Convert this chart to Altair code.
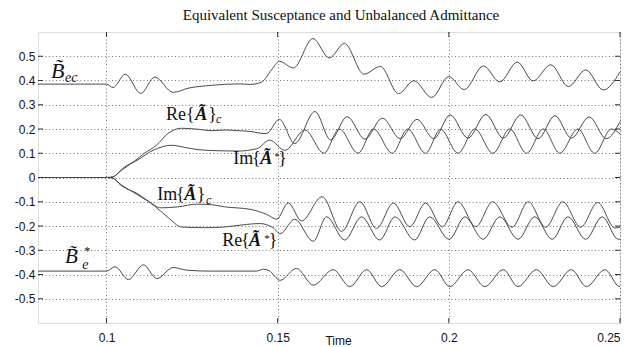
import altair as alt
import pandas as pd

# ---------------- data ----------------
bec_t = [0.08, 0.1, 0.1019, 0.1055, 0.1100, 0.1141, 0.1195, 0.1238, 0.1306, 0.1384, 0.1420, 0.1453, 0.1482, 0.1505,
         0.1546, 0.1603, 0.1651, 0.1695, 0.1752, 0.1800, 0.1853, 0.1898, 0.1950, 0.2000, 0.2045, 0.2101, 0.2149,
         0.2200, 0.2246, 0.2298, 0.2349, 0.2400, 0.2451, 0.25]
bec_v = [0.385, 0.385, 0.371, 0.426, 0.347, 0.414, 0.351, 0.368, 0.380, 0.386, 0.384, 0.393, 0.444, 0.479,
         0.452, 0.573, 0.493, 0.553, 0.426, 0.458, 0.346, 0.399, 0.330, 0.416, 0.362, 0.460, 0.394,
         0.476, 0.398, 0.465, 0.375, 0.444, 0.361, 0.435]

re_ac_t = [0.08, 0.1, 0.1017, 0.1043, 0.1082, 0.111, 0.1146, 0.118, 0.1219, 0.1267, 0.1306, 0.1345, 0.1384, 0.142,
           0.1448, 0.1467, 0.1505, 0.1550, 0.1609, 0.1655, 0.1703, 0.1755, 0.1806, 0.1858, 0.1907, 0.1956, 0.2004,
           0.2056, 0.2108, 0.2159, 0.2210, 0.2261, 0.2310, 0.2358, 0.2410, 0.2460, 0.25]
re_ac_v = [0, 0, 0.002, 0.029, 0.068, 0.099, 0.133, 0.182, 0.203, 0.199, 0.193, 0.196, 0.193, 0.190,
           0.183, 0.181, 0.240, 0.140, 0.272, 0.155, 0.251, 0.158, 0.245, 0.160, 0.240, 0.160, 0.258,
           0.162, 0.260, 0.162, 0.258, 0.160, 0.255, 0.162, 0.250, 0.160, 0.23]

im_as_t = [0.08, 0.1, 0.1017, 0.1053, 0.1092, 0.1136, 0.119, 0.1229, 0.1267, 0.1335, 0.1384, 0.1439, 0.1477, 0.1521,
           0.1580, 0.1635, 0.1680, 0.1735, 0.1780, 0.1835, 0.1880, 0.1932, 0.1976, 0.2027, 0.2076, 0.2129, 0.2178,
           0.2227, 0.2276, 0.2324, 0.2377, 0.2426, 0.2475, 0.25]
im_as_v = [0, 0, 0.002, 0.043, 0.073, 0.112, 0.133, 0.124, 0.115, 0.110, 0.109, 0.119, 0.154, 0.112,
           0.196, 0.100, 0.200, 0.100, 0.200, 0.100, 0.200, 0.100, 0.199, 0.100, 0.200, 0.100, 0.200,
           0.100, 0.200, 0.100, 0.200, 0.100, 0.200, 0.18]

im_ac_t = [0.08, 0.1, 0.1017, 0.1043, 0.1092, 0.1121, 0.116, 0.1209, 0.1264, 0.1306, 0.1345, 0.1419, 0.1468, 0.1497,
           0.1531, 0.1570, 0.1630, 0.1687, 0.1740, 0.1789, 0.1838, 0.1886, 0.1932, 0.1981, 0.2027, 0.2079, 0.2128,
           0.2185, 0.2232, 0.2283, 0.2333, 0.2385, 0.2435, 0.2485, 0.25]
im_ac_v = [0, 0, -0.002, -0.033, -0.068, -0.096, -0.125, -0.121, -0.110, -0.112, -0.121, -0.131, -0.152, -0.172,
           -0.105, -0.179, -0.079, -0.222, -0.100, -0.210, -0.105, -0.203, -0.105, -0.203, -0.100, -0.203, -0.100,
           -0.205, -0.100, -0.205, -0.100, -0.205, -0.103, -0.208, -0.205]

re_as_t = [0.08, 0.1, 0.1017, 0.1043, 0.1092, 0.114, 0.118, 0.1219, 0.1287, 0.1345, 0.1370, 0.1448, 0.1487, 0.1507,
           0.1550, 0.1604, 0.1643, 0.1696, 0.1745, 0.1798, 0.1843, 0.1900, 0.1944, 0.2001, 0.2047, 0.2100, 0.2149,
           0.2202, 0.2251, 0.2302, 0.2348, 0.2400, 0.2448, 0.2495, 0.25]
re_as_v = [0, 0, -0.002, -0.030, -0.072, -0.117, -0.165, -0.204, -0.207, -0.204, -0.200, -0.190, -0.207, -0.232,
           -0.172, -0.263, -0.162, -0.258, -0.162, -0.258, -0.162, -0.258, -0.162, -0.255, -0.162, -0.255, -0.162,
           -0.255, -0.162, -0.255, -0.162, -0.255, -0.162, -0.255, -0.254]

be_t = [0.08, 0.1, 0.1025, 0.1064, 0.1108, 0.1147, 0.1195, 0.1234, 0.1300, 0.1439, 0.1458, 0.1475, 0.1507, 0.1555,
        0.1604, 0.1662, 0.1711, 0.1760, 0.1804, 0.1857, 0.1906, 0.1959, 0.2003, 0.2056, 0.2105, 0.2159, 0.2202,
        0.2256, 0.2305, 0.2358, 0.2402, 0.2456, 0.2499, 0.25]
be_v = [-0.386, -0.386, -0.368, -0.421, -0.360, -0.417, -0.371, -0.382, -0.386, -0.386, -0.378, -0.384, -0.424, -0.375,
        -0.444, -0.380, -0.450, -0.380, -0.450, -0.380, -0.450, -0.380, -0.450, -0.380, -0.450, -0.380, -0.450,
        -0.380, -0.450, -0.380, -0.450, -0.380, -0.450, -0.449]

x_ticks = [0.1, 0.15, 0.2, 0.25]
y_ticks = [-0.5, -0.4, -0.3, -0.2, -0.1, 0.0, 0.1, 0.2, 0.3, 0.4, 0.5]

title_text = "Equivalent Susceptance and Unbalanced Admittance"

# annotation pieces: text, t, v (baseline), font size, style
ann_text = ["B\u0303", "ec",
            "Re", "{", "Ã", "}", "c",
            "Im", "{", "Ã", "*", "}",
            "Im", "{", "Ã", "}", "c",
            "Re", "{", "Ã", "*", "}",
            "B\u0303", "*", "e"]
ann_t = [0.0838, 0.0879,
         0.1174, 0.1232, 0.1259, 0.1297, 0.1320,
         0.1370, 0.1425, 0.1449, 0.1490, 0.1502,
         0.1148, 0.1203, 0.1227, 0.1264, 0.1291,
         0.1338, 0.1393, 0.1416, 0.1461, 0.1474,
         0.0879, 0.0935, 0.0929]
ann_v = [0.410, 0.394,
         0.239, 0.239, 0.239, 0.239, 0.225,
         0.056, 0.056, 0.056, 0.072, 0.056,
         -0.093, -0.093, -0.093, -0.093, -0.109,
         -0.283, -0.283, -0.283, -0.266, -0.283,
         -0.353, -0.318, -0.377]
ann_size = [22, 14,
            18, 18, 18, 18, 12,
            18, 18, 18, 11, 18,
            18, 18, 18, 18, 12,
            18, 18, 18, 11, 18,
            21, 12, 14]
ann_kind = ["italic", "italic",
            "regular", "regular", "bold", "regular", "italic",
            "regular", "regular", "bold", "regular", "regular",
            "regular", "regular", "bold", "regular", "italic",
            "regular", "regular", "bold", "regular", "regular",
            "italic", "regular", "italic"]

# ---------------- tables ----------------
series = [("Bec", bec_t, bec_v), ("ReAc", re_ac_t, re_ac_v), ("ImAs", im_as_t, im_as_v),
          ("ImAc", im_ac_t, im_ac_v), ("ReAs", re_as_t, re_as_v), ("Be", be_t, be_v)]
rows = []
for name, ts, vs in series:
    for t, v in zip(ts, vs):
        rows.append({"series": name, "t": t, "v": v})
df = pd.DataFrame(rows)
ann = pd.DataFrame({"text": ann_text, "t": ann_t, "v": ann_v, "size": ann_size, "kind": ann_kind})
xt = pd.DataFrame({"t": x_ticks})
yt = pd.DataFrame({"v": y_ticks})

W, H = 582, 291
xscale = alt.Scale(domain=[0.08, 0.25], nice=False, zero=False)
yscale = alt.Scale(domain=[-0.6, 0.6], nice=False, zero=False)

x_axis = alt.Axis(values=x_ticks, grid=True, gridDash=[1, 2.5], gridColor="#555", gridWidth=0.8,
                  domain=False, ticks=False, tickSize=0, labelPadding=9, labelOverlap=False,
                  labelFont="Liberation Sans", labelFontSize=12, labelColor="#111",
                  labelExpr="format(datum.value, '~g')",
                  title="Time", titleFont="Liberation Sans", titleFontSize=12, titleFontWeight="normal",
                  titleColor="#111", titleX=300, titleY=21, titleBaseline="alphabetic", titleAlign="center")
y_axis = alt.Axis(values=y_ticks, grid=True, gridDash=[1, 2.5], gridColor="#555", gridWidth=0.8,
                  domain=False, ticks=False, tickSize=0, labelPadding=3, labelOverlap=False,
                  labelFont="Liberation Sans", labelFontSize=12, labelColor="#111",
                  labelExpr="datum.value == 0 ? '0' : (datum.value < 0 ? '-' + format(-datum.value, '.1f') : format(datum.value, '.1f'))",
                  title=None)

X = alt.X("t:Q", scale=xscale, axis=x_axis, title="Time")
Y = alt.Y("v:Q", scale=yscale, axis=y_axis, title=None)

lines = alt.Chart(df).mark_line(interpolate="monotone", color="#4a4a4a", strokeWidth=1).encode(
    x=X, y=Y, detail="series:N",
)

tick_style = dict(color="#333", strokeWidth=1)
xb = alt.Chart(xt).mark_rule(**tick_style).encode(x=X, y=alt.value(H), y2=alt.value(H - 5))
xtop = alt.Chart(xt).mark_rule(**tick_style).encode(x=X, y=alt.value(0), y2=alt.value(5))
yl = alt.Chart(yt).mark_rule(**tick_style).encode(y=Y, x=alt.value(0), x2=alt.value(5))
yr = alt.Chart(yt).mark_rule(**tick_style).encode(y=Y, x=alt.value(W), x2=alt.value(W - 5))


def ann_layer(kind, style, weight):
    return alt.Chart(ann).transform_filter(alt.datum.kind == kind).mark_text(
        font="Liberation Serif", fontStyle=style, fontWeight=weight, align="left",
        baseline="alphabetic", color="#111"
    ).encode(
        x=X, y=Y,
        text="text:N",
        size=alt.Size("size:Q", scale=None, legend=None),
    )


ann_reg = ann_layer("regular", "normal", "normal")
ann_it = ann_layer("italic", "italic", "normal")
ann_bold = ann_layer("bold", "italic", "bold")

title = alt.Chart(pd.DataFrame({"text": [title_text]})).mark_text(
    font="Liberation Serif", fontSize=15, align="center", baseline="alphabetic", color="#111"
).encode(x=alt.value(303), y=alt.value(-12), text="text:N")

chart = alt.layer(lines, xb, xtop, yl, yr, ann_reg, ann_it, ann_bold, title).properties(
    width=W, height=H,
    autosize=alt.AutoSizeParams(type="none"),
    padding={"left": 38, "top": 32, "right": 23, "bottom": 24},
).configure_view(stroke="#333", strokeWidth=1.2).configure_axis(labelOverlap=False).configure(background="white")

chart.save("out.html", embed_options={"renderer": "svg", "actions": False})
